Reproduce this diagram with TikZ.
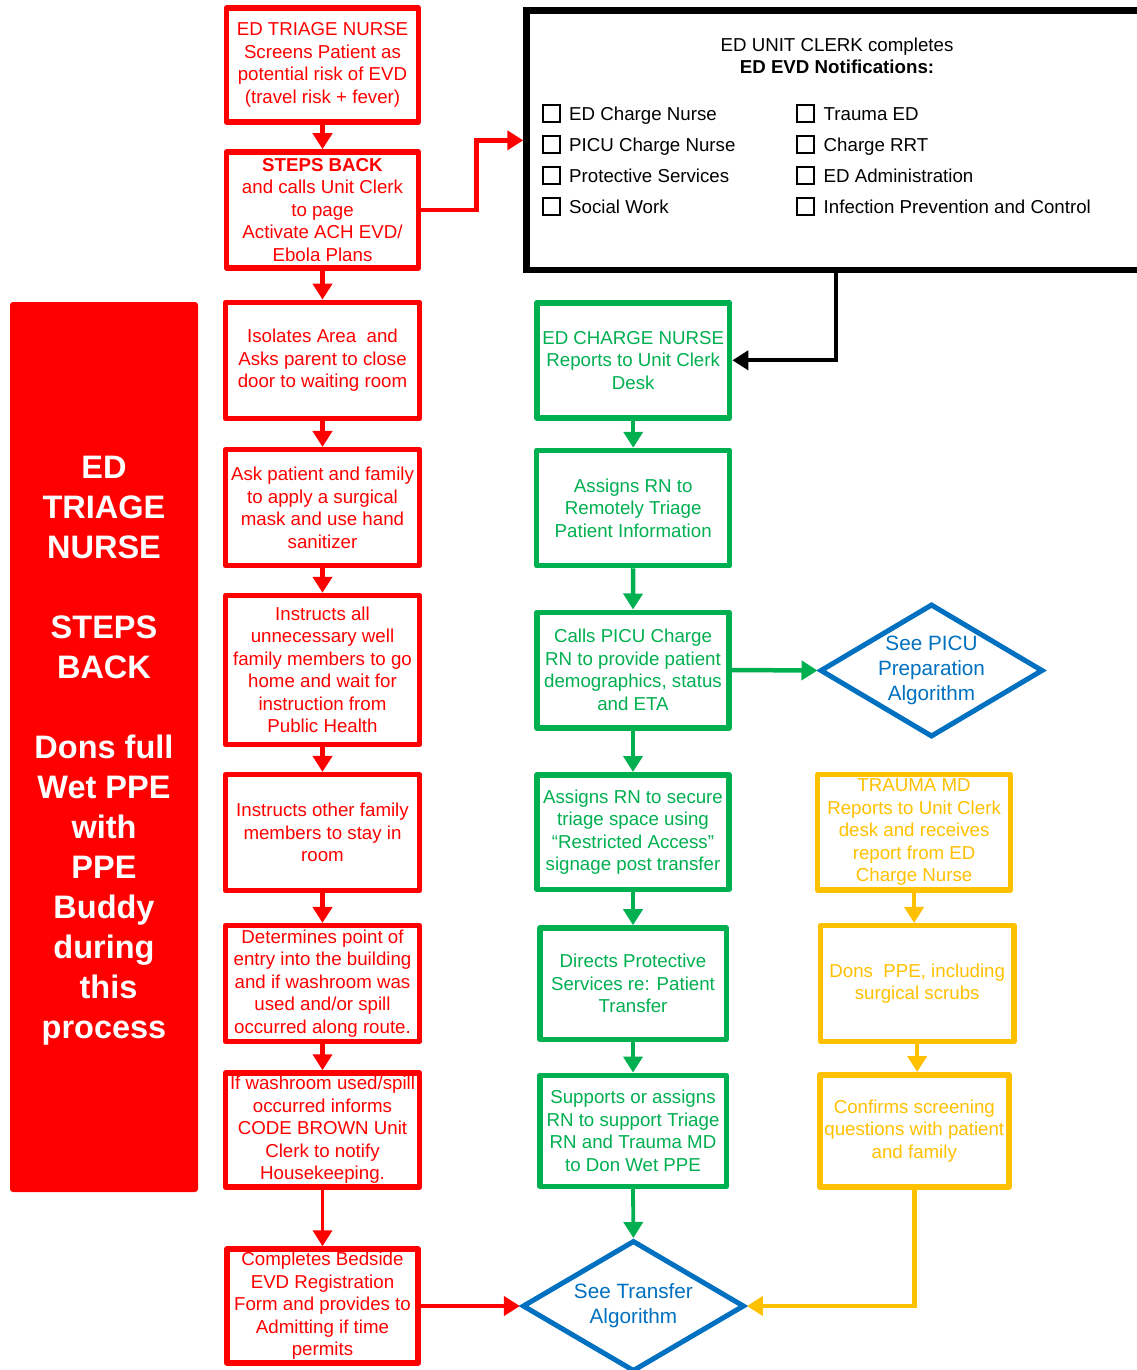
\documentclass[tikz,border=0pt]{standalone}
\usepackage{fontspec}
\setmainfont{Liberation Sans}
\usetikzlibrary{arrows.meta,shapes.geometric}
\definecolor{cRed}{HTML}{FF0000}
\definecolor{cGreen}{HTML}{00B050}
\definecolor{cYellow}{HTML}{FFC000}
\definecolor{cBlue}{HTML}{0070C0}

\begin{document}
\begin{tikzpicture}[x=1pt,y=-1pt,
  txt/.style={font=\fontsize{18.7}{22.5}\selectfont, align=center},
  sz/.style 2 args={minimum width=#1pt, minimum height=#2pt},
  box/.style={draw, line width=5.5pt, line join=round, rectangle, inner sep=0pt, fill=white, txt},
  rbox/.style={box, draw=cRed, text=cRed},
  gbox/.style={box, draw=cGreen, text=cGreen},
  ybox/.style={box, draw=cYellow, text=cYellow},
  diam/.style={diamond, draw=cBlue, line width=5pt, inner sep=0pt, fill=white},
  dtext/.style={text=cBlue, font=\fontsize{20.7}{25}\selectfont, align=center, inner sep=0pt},
  btext/.style={text=white, font=\bfseries\fontsize{32.5}{40}\selectfont, align=center, inner sep=0pt},
  flow/.style={line width=4.5pt, -{Triangle[width=19pt,length=16pt]}},
  chk/.style={draw=black, line width=1.3pt, minimum size=17pt, inner sep=0pt},
  lbl/.style={font=\fontsize{18.7}{22.5}\selectfont, anchor=base west, inner sep=0pt},
]
\useasboundingbox (0,0) rectangle (1137,1370);
\clip (0,0) rectangle (1137,1370);
\fill[white] (0,0) rectangle (1137,1370);

% side banner
\node[fill=cRed, rounded corners=3pt, sz={188}{890}, inner sep=0pt,
      label={[btext, yshift=-4pt]center:ED\\TRIAGE\\NURSE\\[40pt]STEPS\\BACK\\[40pt]Dons full\\Wet PPE\\with\\PPE\\Buddy\\during\\\mbox{}\ this\\process}]
  (banner) at (104,747) {};

% triage nurse column
\node[rbox, sz={192}{114}] (r1) at (322.5,65)
  {ED TRIAGE NURSE\\Screens Patient as\\potential risk of EVD\\(travel risk + fever)};
\node[rbox, sz={192}{116}] (r2) at (322.5,210)
  {\textbf{STEPS BACK}\\and calls Unit Clerk\\to page\\Activate ACH EVD/\\Ebola Plans};
\node[rbox, sz={194}{116}] (r3) at (322.5,360.4)
  {Isolates Area\ \ and\\Asks parent to close\\door to waiting room};
\node[rbox, sz={194}{116}] (r4) at (322.5,507.7)
  {Ask patient and family\\to apply a surgical\\mask and use hand\\sanitizer};
\node[rbox, sz={194}{148.7}] (r5) at (322.5,669.9)
  {Instructs all\\unnecessary well\\family members to go\\home and wait for\\instruction from\\Public Health};
\node[rbox, sz={194}{115.6}] (r6) at (322.5,832.5)
  {Instructs other family\\members to stay in\\room};
\node[rbox, sz={194}{115.6}] (r7) at (322.5,983.5)
  {Determines point of\\entry into the building\\and if washroom was\\used and/or spill\\occurred along route.};
\node[rbox, sz={194}{114}] (r8) at (322.5,1130)
  {If washroom used/spill\\occurred informs\\CODE BROWN Unit\\Clerk to notify\\Housekeeping.};
\node[rbox, sz={191.4}{114}] (r9) at (322.5,1306)
  {Completes Bedside\\EVD Registration\\Form and provides to\\Admitting if time\\permits};

% unit clerk notification panel
\node[draw=black, line width=6.5pt, sz={618.5}{259.3}, inner sep=0pt] (note) at (835.75,140.35) {};
\node[txt, inner sep=0pt] (notehead) at (837,56)
  {ED UNIT CLERK completes\\\textbf{ED EVD Notifications:}};
\node[chk] (k1) at (551.5,113.5) {};
\node[chk] (k2) at (551.5,144.5) {};
\node[chk] (k3) at (551.5,175.5) {};
\node[chk] (k4) at (551.5,206.5) {};
\node[chk] (k5) at (805.5,113.5) {};
\node[chk] (k6) at (805.5,144.5) {};
\node[chk] (k7) at (805.5,175.5) {};
\node[chk] (k8) at (805.5,206.5) {};
\node[lbl] (l1) at (569,120.2) {ED Charge Nurse};
\node[lbl] (l2) at (569,151.2) {PICU Charge Nurse};
\node[lbl] (l3) at (569,182.2) {Protective Services};
\node[lbl] (l4) at (569,213.2) {Social Work};
\node[lbl] (l5) at (823.5,120.2) {Trauma ED};
\node[lbl] (l6) at (823.5,151.2) {Charge RRT};
\node[lbl] (l7) at (823.5,182.2) {ED Administration};
\node[lbl] (l8) at (823.5,213.2) {Infection Prevention and Control};

% charge nurse column
\node[gbox, sz={192.8}{115}] (g1) at (633.2,360.3)
  {ED CHARGE NURSE\\Reports to Unit Clerk\\Desk};
\node[gbox, sz={193}{115}] (g2) at (633.2,508)
  {Assigns RN to\\Remotely Triage\\Patient Information};
\node[gbox, sz={192.2}{115.5}] (g3) at (633,670)
  {Calls PICU Charge\\RN to provide patient\\demographics, status\\and ETA};
\node[gbox, sz={192.2}{114.5}] (g4) at (633,832)
  {Assigns RN to secure\\triage space using\\“Restricted Access”\\signage post transfer};
\node[gbox, sz={186.5}{111.3}] (g5) at (633,983.6)
  {Directs Protective\\Services re: Patient\\Transfer};
\node[gbox, sz={186.5}{111}] (g6) at (633,1130.8)
  {Supports or assigns\\RN to support Triage\\RN and Trauma MD\\to Don Wet PPE};

% trauma MD column
\node[ybox, sz={193.2}{115.3}] (y1) at (914.1,832.2)
  {TRAUMA MD\\Reports to Unit Clerk\\desk and receives\\report from ED\\Charge Nurse};
\node[ybox, sz={193.3}{115.6}] (y2) at (917.2,983.5)
  {Dons\ \ PPE, including\\surgical scrubs};
\node[ybox, sz={189}{112.3}] (y3) at (914.3,1130.9)
  {Confirms screening\\questions with patient\\and family};

% algorithm references
\node[diam, sz={223}{133}, label={[dtext]center:See PICU\\Preparation\\Algorithm}] (picu) at (931.5,670.5) {};
\node[diam, sz={222}{131}, label={[dtext]center:See Transfer\\Algorithm}] (tr) at (633.4,1306) {};

% connectors
\draw[flow, cRed] (r1.south) -- (r2.north);
\draw[flow, cRed] (r2.south) -- (r3.north);
\draw[flow, cRed] (r3.south) -- (r4.north);
\draw[flow, cRed] (r4.south) -- (r5.north);
\draw[flow, cRed] (r5.south) -- (r6.north);
\draw[flow, cRed] (r6.south) -- (r7.north);
\draw[flow, cRed] (r7.south) -- (r8.north);
\draw[flow, cRed, line width=3.8pt] (r8.south) -- (r9.north);
\draw[flow, cRed] (r2.east) -- ++(55,0) |- (note.west);
\draw[flow, cRed] (r9.east) -- (tr.west);

\draw[flow, black, line width=4pt] (note.south) |- (g1.east);

\draw[flow, cGreen] (g1.south) -- (g2.north);
\draw[flow, cGreen] (g2.south) -- (g3.north);
\draw[flow, cGreen] (g3.south) -- (g4.north);
\draw[flow, cGreen] (g4.south) -- (g5.north);
\draw[flow, cGreen] (g5.south) -- (g6.north);
\draw[flow, cGreen, line width=3.8pt] (g6.south) -- (tr.north);
\draw[flow, cGreen] (g3.east) -- (picu.west);

\draw[flow, cYellow] (y1.south) -- (y1.south |- y2.north);
\draw[flow, cYellow] (y2.south) -- (y2.south |- y3.north);
\draw[flow, cYellow] (y3.south) |- (tr.east);
\end{tikzpicture}
\end{document}
